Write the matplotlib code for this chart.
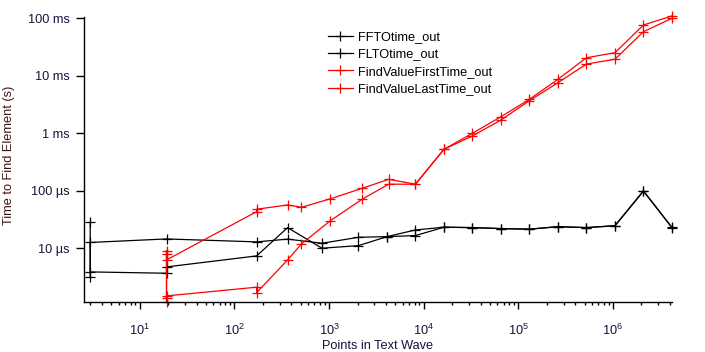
import matplotlib
matplotlib.use('Agg')
import matplotlib.pyplot as plt
from matplotlib.ticker import FixedLocator, FixedFormatter, LogLocator, NullFormatter, NullLocator

plt.rcParams['font.family'] = ['Liberation Sans', 'DejaVu Sans']
plt.rcParams['mathtext.fontset'] = 'custom'
plt.rcParams['mathtext.rm'] = 'Liberation Sans'

# data (x = points in text wave, y = seconds)
x_fft = [3, 3, 19.2, 19.2, 172, 365, 843, 2048, 4096, 8192, 16384, 32768,
         65536, 131072, 262144, 524288, 1048576, 2097152, 4194304]
y_fft = [28.3e-6, 3.87e-6, 3.67e-6, 4.73e-6, 7.35e-6, 22.8e-6, 10.0e-6, 11.1e-6,
         15.9e-6, 16.6e-6, 23.2e-6, 22.8e-6, 21.9e-6, 21.4e-6, 23.8e-6, 22.8e-6,
         24.7e-6, 100e-6, 22.8e-6]

x_flt = [3, 3, 19.2, 172, 365, 843, 2048, 4096, 8192, 16384, 32768,
         65536, 131072, 262144, 524288, 1048576, 2097152, 4194304]
y_flt = [3.17e-6, 12.6e-6, 14.5e-6, 12.9e-6, 14.4e-6, 12.2e-6, 15.5e-6, 15.9e-6,
         20.8e-6, 23.2e-6, 22.9e-6, 22.0e-6, 21.5e-6, 23.6e-6, 22.9e-6, 24.5e-6,
         98e-6, 23.0e-6]

x_first = [19.2, 19.2, 19.2, 172, 172, 365, 512, 1024, 2230, 4270, 8192, 16384,
           32768, 65536, 131072, 262144, 524288, 1048576, 2097152, 4194304]
y_first = [9.1e-6, 1.35e-6, 1.48e-6, 2.10e-6, 1.69e-6, 6.26e-6, 11.9e-6, 29.8e-6,
           71e-6, 130e-6, 130e-6, 527e-6, 1.0e-3, 1.94e-3, 3.90e-3, 8.69e-3,
           20.6e-3, 25.2e-3, 76.4e-3, 110e-3]

x_last = [19.2, 19.2, 19.2, 172, 172, 365, 512, 1024, 2230, 4270, 8192, 16384,
          32768, 65536, 131072, 262144, 524288, 1048576, 2097152, 4194304]
y_last = [1.17e-6, 7.9e-6, 6.26e-6, 43.3e-6, 47.7e-6, 56.6e-6, 51.6e-6, 72e-6,
          110e-6, 158e-6, 130e-6, 527e-6, 0.898e-3, 1.70e-3, 3.69e-3, 7.59e-3,
          16.0e-3, 19.4e-3, 58.5e-3, 100e-3]

y_ticks = [1e-5, 1e-4, 1e-3, 1e-2, 1e-1]
y_tick_labels = ['10 µs', '100 µs', '1 ms', '10 ms', '100 ms']
x_ticks = [1e1, 1e2, 1e3, 1e4, 1e5, 1e6]
x_tick_labels = [r'$\mathregular{10^{%d}}$' % e for e in range(1, 7)]

fig = plt.figure(figsize=(7.05, 3.52), dpi=100)
ax = fig.add_axes([84 / 705, 1 - 302 / 352, (672 - 84) / 705, (302 - 16.7) / 352])

style = dict(marker='+', markersize=7.5, markeredgewidth=0.9, linewidth=0.9, clip_on=False)
ax.plot(x_fft, y_fft, color='black', label='FFTOtime_out', **style)
ax.plot(x_flt, y_flt, color='black', label='FLTOtime_out', **style)
ax.plot(x_first, y_first, color='#ff0000', label='FindValueFirstTime_out', **style)
ax.plot(x_last, y_last, color='#ff0000', label='FindValueLastTime_out', **style)

ax.set_xscale('log')
ax.set_yscale('log')
ax.set_xlim(2.58, 4.2e6)
ax.set_ylim(1.16e-6, 0.1066)

for s in ['top', 'right']:
    ax.spines[s].set_visible(False)
ax.spines['left'].set_linewidth(1.0)
ax.spines['bottom'].set_linewidth(1.0)

ax.yaxis.set_major_locator(FixedLocator(y_ticks))
ax.yaxis.set_major_formatter(FixedFormatter(y_tick_labels))
ax.yaxis.set_minor_locator(NullLocator())
ax.xaxis.set_major_locator(FixedLocator(x_ticks))
ax.xaxis.set_major_formatter(FixedFormatter(x_tick_labels))
ax.xaxis.set_minor_locator(LogLocator(base=10, subs=range(2, 10), numticks=20))
ax.xaxis.set_minor_formatter(NullFormatter())

ax.tick_params(axis='y', which='major', direction='out', length=6, width=1,
               pad=4.5, labelsize=9.2, labelcolor='#14143a')
ax.tick_params(axis='x', which='major', direction='out', length=4.8, width=1,
               pad=10.5, labelsize=9.2, labelcolor='#14143a')
ax.tick_params(axis='x', which='minor', direction='out', length=2.4, width=1)

ax.set_xlabel('Points in Text Wave', fontsize=9.2, color='#14143a')
ax.xaxis.set_label_coords(0.5, -0.133)
ax.set_ylabel('Time to Find Element (s)', fontsize=9.2, color='#3d1414')
ax.yaxis.set_label_coords(-0.118, 0.515)

ax.legend(loc='upper left', bbox_to_anchor=(328 / 705, 1 - 31 / 352),
          bbox_transform=fig.transFigure, frameon=False, fontsize=9.2,
          handlelength=1.95, handletextpad=0.4, labelspacing=0.42,
          borderpad=0, borderaxespad=0)

fig.savefig('out.png', dpi=100)
